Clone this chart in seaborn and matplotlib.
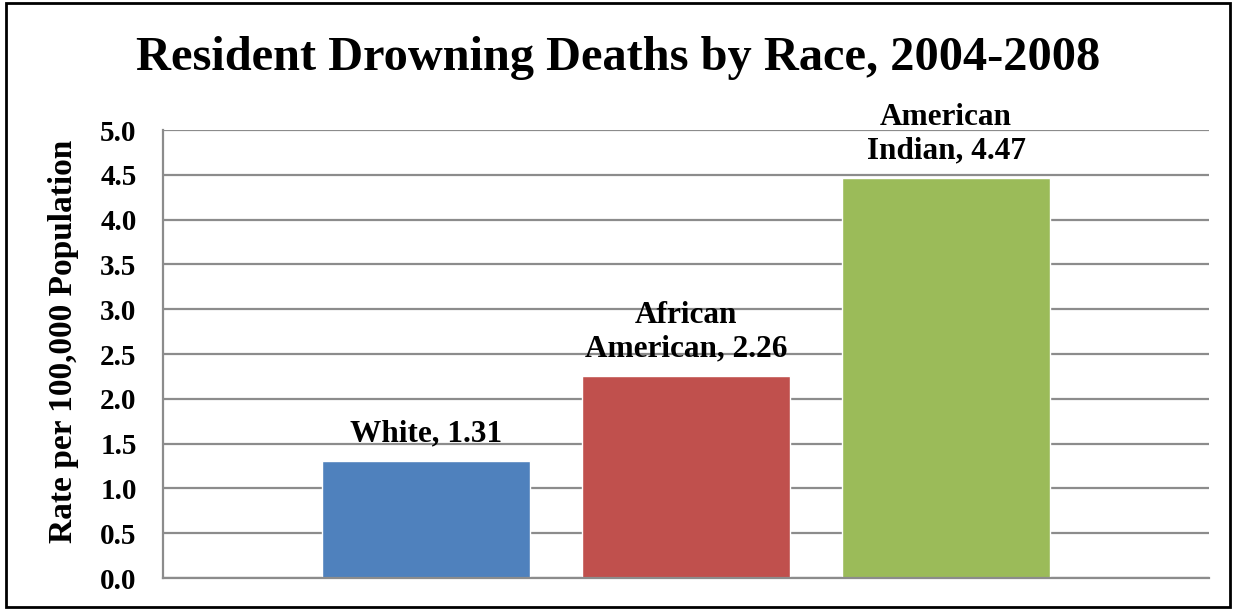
import matplotlib
matplotlib.use('Agg')
import matplotlib.pyplot as plt
import seaborn as sns
import pandas as pd
from matplotlib.patches import Rectangle

races = ['White', 'African American', 'American Indian']
rates = [1.31, 2.26, 4.47]
bar_labels = ['White, 1.31', 'African\nAmerican, 2.26', 'American\nIndian, 4.47']
colors = ['#4F81BD', '#C0504D', '#9BBB59']
y_ticks = [0.0, 0.5, 1.0, 1.5, 2.0, 2.5, 3.0, 3.5, 4.0, 4.5, 5.0]

df = pd.DataFrame({'race': races, 'rate': rates})

sns.set_style('white')
plt.rcParams['font.family'] = ['Liberation Serif', 'DejaVu Serif']
plt.rcParams['font.weight'] = 'bold'
plt.rcParams['text.color'] = 'black'
plt.rcParams['ytick.color'] = 'black'

fig = plt.figure(figsize=(12.36, 6.09), dpi=100)
ax = fig.add_axes([0.1319, 0.0509, 0.8463, 0.7356])

sns.barplot(data=df, x='race', y='rate', hue='race', palette=colors,
            width=0.8, saturation=1, legend=False, ax=ax, zorder=2)

ax.set_xlim(-1.01, 3.01)
ax.set_ylim(0, 5)
ax.set_yticks(y_ticks)
ax.set_yticklabels([f'{t:.1f}' for t in y_ticks], fontsize=21, fontweight='bold', color='black')
ax.tick_params(axis='y', length=0, pad=19)
ax.set_xticks([])
ax.set_xlabel('')
ax.set_ylabel('')

# gridlines behind the bars
ax.grid(axis='y', color='#8c8c8c', linewidth=1.6, zorder=0)
ax.set_axisbelow(True)
for s in ['top', 'right']:
    ax.spines[s].set_visible(False)
for s in ['left', 'bottom']:
    ax.spines[s].set_color('#8c8c8c')
    ax.spines[s].set_linewidth(1.6)

# data labels above each bar
for i, (v, lab) in enumerate(zip(rates, bar_labels)):
    ax.annotate(lab, (i, v), xytext=(0, 9), textcoords='offset points',
                ha='center', va='bottom', fontsize=22.5, fontweight='bold',
                color='black', zorder=5)

fig.text(0.051, 1 - 341 / 609, 'Rate per 100,000 Population', rotation=90,
         ha='center', va='center', fontsize=24, fontweight='bold', color='black')

fig.text(0.5, 1 - 70 / 609, 'Resident Drowning Deaths by Race, 2004-2008',
         ha='center', va='baseline', fontsize=34.8, fontweight='bold', color='black')

# outer frame
fig.patches.append(Rectangle((0.005, 0.003), 0.99, 0.992, transform=fig.transFigure,
                             fill=False, edgecolor='black', linewidth=2))

fig.savefig('out.png', dpi=100)
